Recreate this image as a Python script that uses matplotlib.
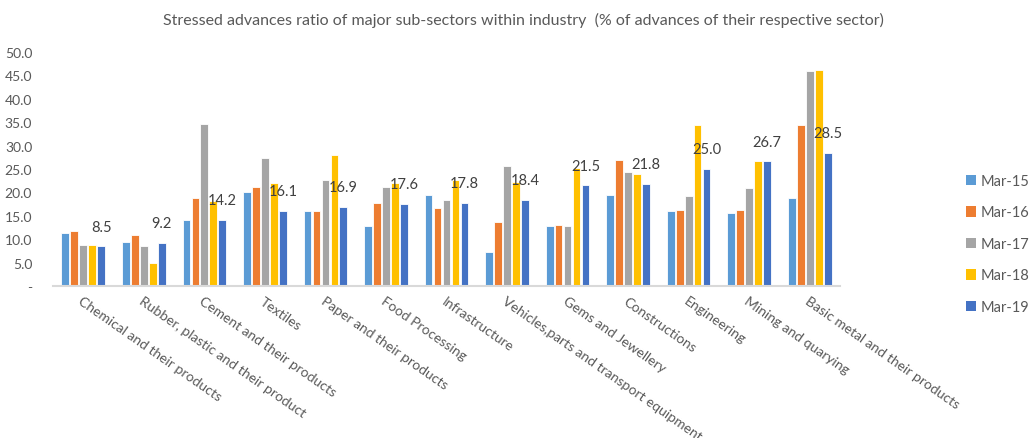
import matplotlib
matplotlib.use('Agg')
import matplotlib.pyplot as plt
import numpy as np
from matplotlib.patches import Patch

plt.rcParams['font.family'] = ['Lato', 'DejaVu Sans']

sectors = ['Chemical and their products', 'Rubber, plastic and their product',
           'Cement and their products', 'Textiles', 'Paper and their products',
           'Food Processing', 'Infrastructure', 'Vehicles,parts and transport equipment',
           'Gems and Jewellery', 'Constructions', 'Engineering', 'Mining and quarying',
           'Basic metal and their products']
periods = ['Mar-15', 'Mar-16', 'Mar-17', 'Mar-18', 'Mar-19']

mar15 = [11.4, 9.4, 14.0, 20.1, 16.0, 12.8, 19.5, 7.3, 12.8, 19.5, 16.0, 15.7, 18.9]
mar16 = [11.7, 10.8, 18.9, 21.2, 16.0, 17.8, 16.6, 13.7, 13.1, 27.0, 16.3, 16.3, 34.3]
mar17 = [8.8, 8.5, 34.6, 27.4, 22.7, 21.2, 18.4, 25.6, 12.8, 24.4, 19.2, 20.9, 45.9]
mar18 = [8.8, 5.0, 18.1, 22.1, 27.9, 22.1, 22.7, 22.3, 25.2, 23.9, 34.3, 26.8, 46.2]
mar19 = [8.5, 9.2, 14.2, 16.1, 16.9, 17.6, 17.8, 18.4, 21.5, 21.8, 25.0, 26.7, 28.5]

series = [mar15, mar16, mar17, mar18, mar19]
colors = ['#5B9BD5', '#ED7D31', '#A5A5A5', '#FFC000', '#4472C4']

fig = plt.figure(figsize=(10.32, 4.39), dpi=100)
ax = fig.add_axes([53/1032, 152/439, 787/1032, 234/439])

x = np.arange(len(sectors))
pitch = 0.148
bw = 0.128
for i, (vals, c) in enumerate(zip(series, colors)):
    bars = ax.bar(x + (i - 2) * pitch, vals, width=bw, color=c,
                  edgecolor='white', linewidth=0.6, zorder=2)
    if i == 4:
        # value labels only on the latest year
        for b, v in zip(bars, vals):
            ax.annotate(f'{v:.1f}', (b.get_x() + b.get_width() / 2, v),
                        xytext=(0, 9), textcoords='offset points',
                        ha='center', va='bottom', fontsize=10.5, color='#404040')

ax.set_xlim(-0.5, len(sectors) - 0.5)
ax.set_ylim(0, 50)
ticks = np.arange(0, 51, 5)
ax.set_yticks(ticks)
ax.set_yticklabels(['-' if t == 0 else f'{t:.1f}' for t in ticks],
                   fontsize=10, color='#595959')
ax.tick_params(axis='y', length=0, pad=15)
ax.set_xticks(x)
ax.set_xticklabels(sectors, rotation=-35, ha='left', va='top',
                   rotation_mode='anchor', fontsize=10, color='#595959')
ax.tick_params(axis='x', length=0, pad=6)

for s in ['top', 'right', 'left']:
    ax.spines[s].set_visible(False)
ax.spines['bottom'].set_color('#D9D9D9')
ax.spines['bottom'].set_linewidth(1.5)

fig.text(523/1032, 1 - 20/439,
         'Stressed advances ratio of major sub-sectors within industry  (% of advances of their respective sector)',
         ha='center', va='center', fontsize=11.5, color='#595959')

handles = [Patch(facecolor=c, label=p) for c, p in zip(colors, periods)]
fig.legend(handles=handles, loc='center left', bbox_to_anchor=(966/1032, 1 - 245/439),
           frameon=False, fontsize=10.5, labelcolor='#595959', handlelength=0.7,
           handleheight=0.7, handletextpad=0.3, labelspacing=1.2,
           borderaxespad=0, borderpad=0)

fig.savefig('out.png', dpi=100, facecolor='white')
